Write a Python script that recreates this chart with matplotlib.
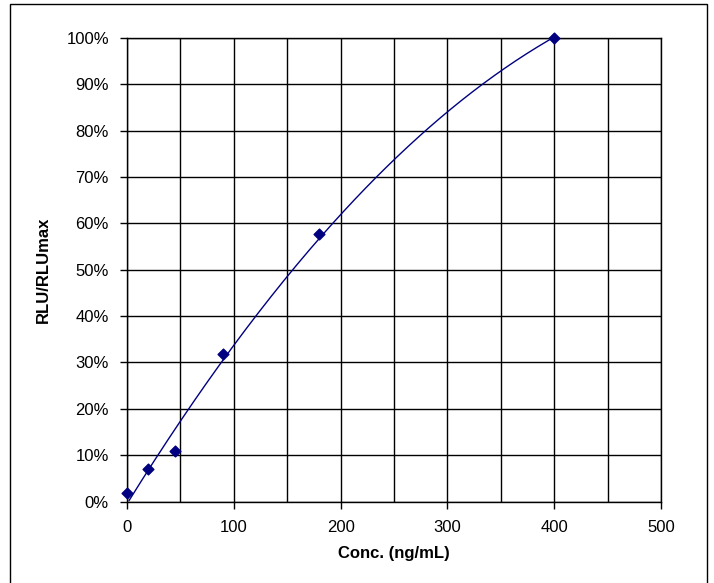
import numpy as np
import matplotlib.pyplot as plt
from matplotlib.patches import Rectangle
from matplotlib.ticker import PercentFormatter

conc = [0, 20, 45, 90, 180, 400]          # ng/mL
rlu = [1.9, 7.1, 10.9, 31.8, 57.7, 100.0]  # % of RLUmax

x_ticks = [0, 100, 200, 300, 400, 500]
y_ticks = [0, 10, 20, 30, 40, 50, 60, 70, 80, 90, 100]

plt.rcParams['font.family'] = ['Liberation Sans', 'DejaVu Sans']

fig = plt.figure(figsize=(7.14, 5.83), dpi=100)
ax = fig.add_axes([127 / 714, 1 - 501.5 / 583, 534 / 714, 463.5 / 583])

# polynomial trendline through the points
coef = np.polyfit(conc, rlu, 2)
xs = np.linspace(0, 400, 200)
ys = np.polyval(coef, xs)
mask = ys >= 0
ax.plot(xs[mask], ys[mask], color='#000080', linewidth=1, zorder=3)
ax.scatter(conc, rlu, marker='D', s=30, color='#000080', zorder=4, clip_on=False)

ax.set_xlim(0, 500)
ax.set_ylim(0, 100)
ax.set_xticks(x_ticks)
ax.set_yticks(y_ticks)
ax.set_xticks(np.arange(0, 501, 50), minor=True)
ax.yaxis.set_major_formatter(PercentFormatter(decimals=0))
ax.tick_params(which='both', direction='out', length=5, width=1, labelsize=12,
               color='k', pad=8)
ax.tick_params(which='minor', length=0)
ax.grid(which='both', color='k', linewidth=1, zorder=0)
for s in ax.spines.values():
    s.set_linewidth(1)
ax.set_xlabel('Conc. (ng/mL)', fontsize=12, fontweight='bold', labelpad=8)
ax.set_ylabel('RLU/RLUmax', fontsize=12, fontweight='bold', labelpad=11)

# outer chart border (bottom edge runs off the image)
fig.patches.append(Rectangle((10 / 714, -0.02), 697 / 714, 1.02 - 4 / 583,
                             transform=fig.transFigure, fill=False,
                             edgecolor='k', linewidth=1))

fig.savefig('out.png', dpi=100)
